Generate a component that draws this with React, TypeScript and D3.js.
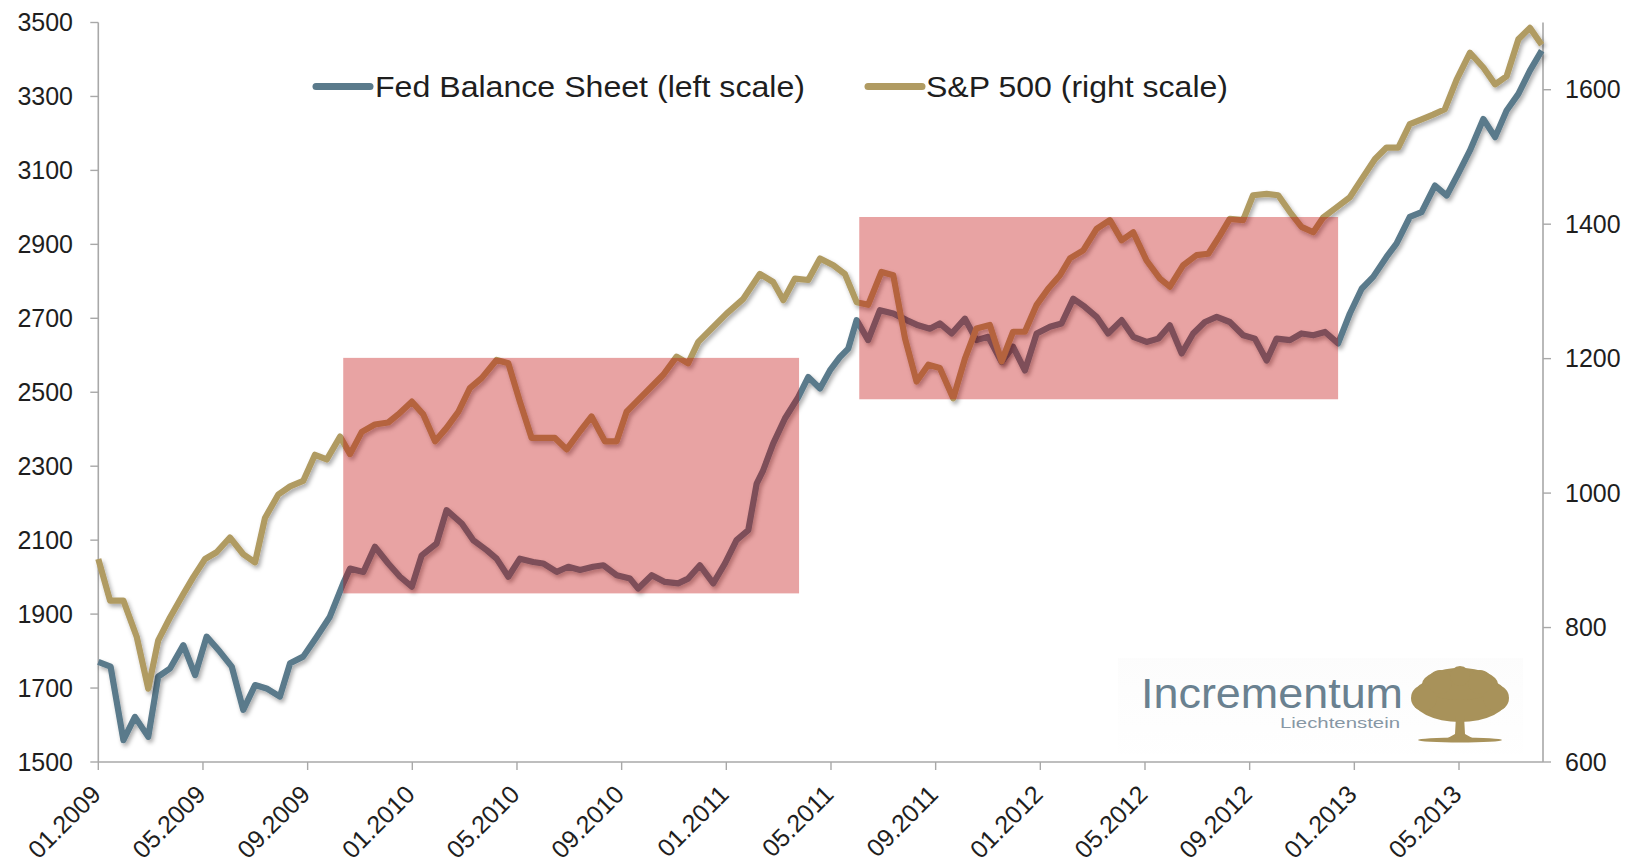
import React from "react";
import * as d3 from "d3";

// ---- data (months since 01.2009, values) ----
const fedMonths = [0.0,0.47,0.96,1.4,1.91,2.29,2.74,3.25,3.7,4.14,4.65,5.1,5.54,5.99,6.43,6.94,7.33,7.83,8.35,8.85,9.36,9.62,10.13,10.57,11.08,11.53,11.98,12.36,12.93,13.31,13.89,14.33,14.84,15.22,15.67,16.11,16.62,17.0,17.52,17.96,18.41,18.91,19.3,19.81,20.32,20.63,21.15,21.65,22.16,22.54,22.99,23.5,23.95,24.39,24.84,25.16,25.41,25.79,26.24,26.75,27.13,27.58,27.96,28.34,28.66,28.98,29.42,29.87,30.38,30.89,31.33,31.78,32.16,32.61,33.12,33.56,34.01,34.52,34.96,35.41,35.86,36.37,36.81,37.26,37.7,38.15,38.59,39.11,39.55,40.06,40.51,40.95,41.4,41.84,42.29,42.74,43.24,43.75,44.2,44.65,45.03,45.54,45.98,46.43,46.88,47.38,47.83,48.28,48.72,49.23,49.61,50.12,50.57,51.08,51.53,51.97,52.42,52.93,53.38,53.82,54.27,54.71,55.16];
const fedValues = [1771,1758,1559,1622,1568,1731,1753,1816,1735,1839,1798,1758,1641,1708,1699,1677,1767,1785,1839,1893,1983,2023,2014,2082,2037,2001,1974,2059,2091,2181,2145,2100,2073,2050,2001,2050,2041,2037,2014,2028,2019,2028,2032,2005,1996,1969,2005,1987,1983,1996,2032,1983,2037,2100,2127,2253,2289,2361,2429,2487,2541,2510,2559,2595,2618,2695,2641,2722,2713,2695,2681,2672,2686,2659,2699,2641,2650,2582,2623,2559,2659,2677,2686,2753,2731,2704,2659,2695,2650,2636,2645,2681,2605,2659,2690,2704,2690,2654,2645,2586,2645,2641,2659,2654,2663,2632,2713,2780,2812,2866,2902,2974,2987,3059,3032,3091,3154,3239,3190,3262,3307,3370,3424];

const spxMonths = [0.0,0.45,0.96,1.47,1.91,2.29,2.74,3.25,3.63,4.08,4.52,5.03,5.54,5.99,6.37,6.88,7.33,7.83,8.28,8.73,9.24,9.62,10.07,10.57,11.08,11.46,11.98,12.42,12.87,13.31,13.76,14.2,14.65,15.22,15.67,16.11,16.56,17.0,17.45,17.9,18.41,18.85,19.36,19.81,20.19,20.57,21.08,21.59,22.1,22.54,22.93,23.5,24.01,24.65,25.28,25.79,26.18,26.62,27.13,27.58,28.09,28.53,28.98,29.42,29.93,30.38,30.83,31.27,31.72,32.16,32.67,33.12,33.56,34.07,34.52,34.96,35.41,35.86,36.3,36.75,37.13,37.64,38.15,38.66,39.11,39.55,40.06,40.57,40.95,41.46,41.97,42.42,42.86,43.24,43.75,44.13,44.65,45.09,45.54,45.98,46.43,46.81,47.32,47.83,48.28,48.79,49.23,49.68,50.12,50.57,51.01,51.46,51.91,52.42,52.93,53.38,53.82,54.27,54.71,55.16];
const spxValues = [902,840,840,786,709,781,815,850,875,902,912,934,909,897,963,998,1010,1018,1057,1050,1084,1058,1091,1102,1105,1117,1136,1117,1077,1097,1121,1156,1171,1198,1193,1136,1082,1082,1082,1065,1092,1114,1077,1077,1121,1136,1156,1176,1203,1193,1225,1247,1267,1289,1326,1314,1287,1319,1317,1349,1339,1326,1284,1280,1329,1324,1230,1166,1191,1186,1141,1200,1245,1250,1196,1240,1240,1280,1304,1324,1349,1361,1393,1406,1376,1388,1346,1319,1307,1339,1354,1356,1383,1408,1406,1443,1445,1443,1418,1396,1388,1410,1425,1440,1467,1497,1514,1514,1549,1556,1563,1571,1615,1655,1633,1608,1620,1675,1692,1667];

const leftTicks = [1500, 1700, 1900, 2100, 2300, 2500, 2700, 2900, 3100, 3300, 3500];
const rightTicks = [600, 800, 1000, 1200, 1400, 1600];
const xTickMonths = [0, 4, 8, 12, 16, 20, 24, 28, 32, 36, 40, 44, 48, 52];
const xTickLabels = ["01.2009", "05.2009", "09.2009", "01.2010", "05.2010", "09.2010", "01.2011", "05.2011", "09.2011", "01.2012", "05.2012", "09.2012", "01.2013", "05.2013"];

// highlighted periods (months, left-scale values)
const boxStart = [9.36, 29.08];
const boxEnd = [26.78, 47.38];
const boxLow = [1956, 2481];
const boxHigh = [2593, 2974];

const seriesNames = ["Fed Balance Sheet (left scale)", "S&P 500 (right scale)"];

const FED_COLOR = "#5a7a8b";
const SPX_COLOR = "#b09b62";
const FONT = "'Liberation Sans', Arial, sans-serif";

export default function App() {
  const W = 1635, H = 866;
  const x = d3.scaleLinear().domain([0, 55.21]).range([98.3, 1543]);
  const yL = d3.scaleLinear().domain([1500, 3500]).range([762, 22.5]);
  const yR = d3.scaleLinear().domain([600, 1700]).range([762, 22.5]);

  const fedLine = d3.line<number>().x((_, i) => x(fedMonths[i])).y((d) => yL(d))(fedValues) || "";
  const spxLine = d3.line<number>().x((_, i) => x(spxMonths[i])).y((d) => yR(d))(spxValues) || "";

  const axisColor = "#a8a8a8";
  const x0 = x.range()[0], x1 = x.range()[1];
  const yBottom = 762, yTop = 22.5;

  return (
    <svg width={W} height={H} style={{ position: "absolute", left: 0, top: 0, display: "block", background: "#fff" }} fontFamily={FONT}>
      <defs>
        <filter id="shadow" x="-5%" y="-5%" width="110%" height="115%">
          <feDropShadow dx="2" dy="3" stdDeviation="2.2" floodColor="#000" floodOpacity="0.33" />
        </filter>
        <linearGradient id="logobg" x1="0" x2="0" y1="0" y2="1">
          <stop offset="0" stopColor="#f7f7f7" />
          <stop offset="1" stopColor="#fefefe" />
        </linearGradient>
      </defs>
      <rect width={W} height={H} fill="#fff" />

      {/* logo background */}
      <rect x={1118} y={658} width={405} height={96} fill="url(#logobg)" opacity={0.35} />

      {/* axes */}
      <line x1={x0} x2={x0} y1={yTop} y2={yBottom} stroke={axisColor} strokeWidth={1.6} />
      <line x1={x1} x2={x1} y1={yTop} y2={yBottom} stroke={axisColor} strokeWidth={1.6} />
      <line x1={x0} x2={x1} y1={yBottom} y2={yBottom} stroke={axisColor} strokeWidth={1.6} />
      {leftTicks.map((t) => (
        <g key={"l" + t}>
          <line x1={x0 - 8} x2={x0} y1={yL(t)} y2={yL(t)} stroke={axisColor} strokeWidth={1.4} />
          <text x={73} y={yL(t)} dy="0.35em" textAnchor="end" fontSize={25} fill="#1e1e1e">{t}</text>
        </g>
      ))}
      {rightTicks.map((t) => (
        <g key={"r" + t}>
          <line x1={x1} x2={x1 + 8} y1={yR(t)} y2={yR(t)} stroke={axisColor} strokeWidth={1.4} />
          <text x={1565} y={yR(t)} dy="0.35em" textAnchor="start" fontSize={25} fill="#1e1e1e">{t}</text>
        </g>
      ))}
      {xTickMonths.map((m, i) => (
        <g key={"x" + m}>
          <line x1={x(m)} x2={x(m)} y1={yBottom} y2={yBottom + 8} stroke={axisColor} strokeWidth={1.4} />
          <text transform={`translate(${x(m) + 4},${796}) rotate(-45)`} textAnchor="end" fontSize={25} fill="#1e1e1e">{xTickLabels[i]}</text>
        </g>
      ))}

      {/* series */}
      <path d={fedLine} fill="none" stroke={FED_COLOR} strokeWidth={6.2} strokeLinejoin="round" filter="url(#shadow)" />
      <path d={spxLine} fill="none" stroke={SPX_COLOR} strokeWidth={6.2} strokeLinejoin="round" filter="url(#shadow)" />

      {/* highlight boxes */}
      {boxStart.map((s, i) => (
        <rect key={"b" + i} x={x(s)} y={yL(boxHigh[i])} width={x(boxEnd[i]) - x(s)} height={yL(boxLow[i]) - yL(boxHigh[i])} fill="#be0000" fillOpacity={0.36} />
      ))}

      {/* legend */}
      <g>
        <line x1={316} x2={370} y1={86.5} y2={86.5} stroke={FED_COLOR} strokeWidth={7} strokeLinecap="round" />
        <text x={375} y={86.5} dy="0.36em" fontSize={30} fill="#1e1e1e" textLength={430} lengthAdjust="spacingAndGlyphs">{seriesNames[0]}</text>
        <line x1={868} x2={922} y1={86.5} y2={86.5} stroke={SPX_COLOR} strokeWidth={7} strokeLinecap="round" />
        <text x={926} y={86.5} dy="0.36em" fontSize={30} fill="#1e1e1e" textLength={302} lengthAdjust="spacingAndGlyphs">{seriesNames[1]}</text>
      </g>

      {/* logo */}
      <g>
        <text x={1141} y={708} fontSize={42} fill="#6a8190" textLength={262} lengthAdjust="spacingAndGlyphs">Incrementum</text>
        <text x={1400} y={728} fontSize={15} fill="#8797a5" textAnchor="end" textLength={120} lengthAdjust="spacingAndGlyphs">Liechtenstein</text>
        <g fill="#a8925a">
          <ellipse cx={1460} cy={698} rx={48} ry={24} />
          <ellipse cx={1460} cy={684} rx={38} ry={16} />
          <circle cx={1424} cy={698} r={13} />
          <circle cx={1496} cy={698} r={13} />
          <circle cx={1440} cy={682} r={12} />
          <circle cx={1480} cy={682} r={12} />
          <circle cx={1460} cy={676} r={10} />
          <path d="M1456,716 L1464,716 L1465,734 L1474,739 L1446,739 L1455,734 Z" />
          <ellipse cx={1460} cy={740} rx={42} ry={2.5} />
        </g>
      </g>
    </svg>
  );
}
